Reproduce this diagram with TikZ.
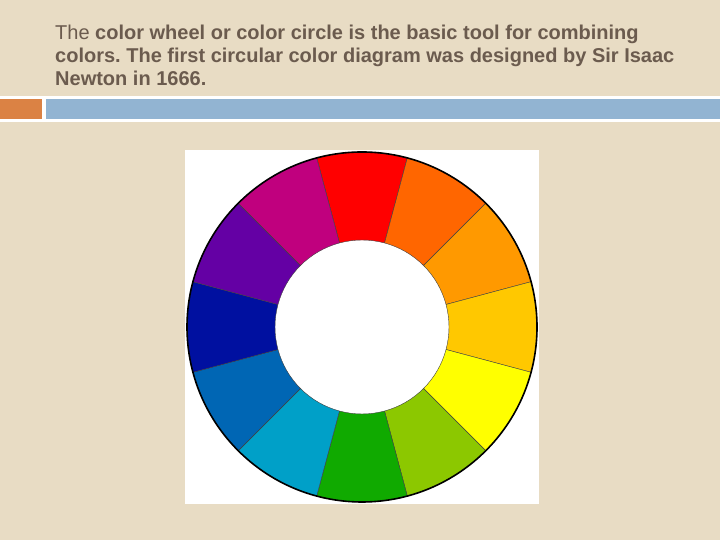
\documentclass[tikz,border=0pt]{standalone}
\usepackage{fontspec}
\setmainfont{Liberation Sans}
\usepackage{tikz}
\frenchspacing
\definecolor{slidebg}{HTML}{E8DCC4}
\definecolor{slidetext}{HTML}{6B5B4E}
\definecolor{barorange}{HTML}{DB8244}
\definecolor{barblue}{HTML}{92B4D2}
\definecolor{wRed}{HTML}{FF0000}
\definecolor{wRedOrange}{HTML}{FF6600}
\definecolor{wOrange}{HTML}{FF9900}
\definecolor{wAmber}{HTML}{FFC800}
\definecolor{wYellow}{HTML}{FFFF00}
\definecolor{wLime}{HTML}{8CC800}
\definecolor{wGreen}{HTML}{10AA00}
\definecolor{wCyan}{HTML}{00A0C8}
\definecolor{wBlue}{HTML}{0066B4}
\definecolor{wNavy}{HTML}{0010A0}
\definecolor{wViolet}{HTML}{6400A4}
\definecolor{wMagenta}{HTML}{C0007E}
\tikzset{
  segment/.style={draw=black!75, line width=0.4pt},
  caption/.style={anchor=base west, inner sep=0pt, text=slidetext, font=\fontsize{20}{23}\selectfont}
}

\begin{document}
\begin{tikzpicture}[x=1pt,y=1pt]
    \fill[slidebg] (0,0) rectangle (720,540);
    \useasboundingbox (0,0) rectangle (720,540);
    \node[caption] (line1) at (55,500) {The \textbf{color wheel or color circle is the basic tool for combining}};
    \node[caption] (line2) at (55,477) {\textbf{colors. The first circular color diagram was designed by Sir Isaac}};
    \node[caption] (line3) at (55,454) {\textbf{Newton in 1666.}};
    \fill[white] (0,418) rectangle (720,444);
    \fill[barorange] (0,421) rectangle (42,441);
    \fill[barblue] (46,421) rectangle (720,441);
    \fill[white] (185,36) rectangle (539,390);
    \begin{scope}[shift={(362,213)}]
      \draw[segment, fill=wRed] (75:87) -- (75:175)
        arc[start angle=75, end angle=105, radius=175] -- (105:87)
        arc[start angle=105, end angle=75, radius=87] -- cycle;
      \draw[segment, fill=wRedOrange] (45:87) -- (45:175)
        arc[start angle=45, end angle=75, radius=175] -- (75:87)
        arc[start angle=75, end angle=45, radius=87] -- cycle;
      \draw[segment, fill=wOrange] (15:87) -- (15:175)
        arc[start angle=15, end angle=45, radius=175] -- (45:87)
        arc[start angle=45, end angle=15, radius=87] -- cycle;
      \draw[segment, fill=wAmber] (-15:87) -- (-15:175)
        arc[start angle=-15, end angle=15, radius=175] -- (15:87)
        arc[start angle=15, end angle=-15, radius=87] -- cycle;
      \draw[segment, fill=wYellow] (-45:87) -- (-45:175)
        arc[start angle=-45, end angle=-15, radius=175] -- (-15:87)
        arc[start angle=-15, end angle=-45, radius=87] -- cycle;
      \draw[segment, fill=wLime] (-75:87) -- (-75:175)
        arc[start angle=-75, end angle=-45, radius=175] -- (-45:87)
        arc[start angle=-45, end angle=-75, radius=87] -- cycle;
      \draw[segment, fill=wGreen] (-105:87) -- (-105:175)
        arc[start angle=-105, end angle=-75, radius=175] -- (-75:87)
        arc[start angle=-75, end angle=-105, radius=87] -- cycle;
      \draw[segment, fill=wCyan] (-135:87) -- (-135:175)
        arc[start angle=-135, end angle=-105, radius=175] -- (-105:87)
        arc[start angle=-105, end angle=-135, radius=87] -- cycle;
      \draw[segment, fill=wBlue] (-165:87) -- (-165:175)
        arc[start angle=-165, end angle=-135, radius=175] -- (-135:87)
        arc[start angle=-135, end angle=-165, radius=87] -- cycle;
      \draw[segment, fill=wNavy] (165:87) -- (165:175)
        arc[start angle=165, end angle=195, radius=175] -- (195:87)
        arc[start angle=195, end angle=165, radius=87] -- cycle;
      \draw[segment, fill=wViolet] (135:87) -- (135:175)
        arc[start angle=135, end angle=165, radius=175] -- (165:87)
        arc[start angle=165, end angle=135, radius=87] -- cycle;
      \draw[segment, fill=wMagenta] (105:87) -- (105:175)
        arc[start angle=105, end angle=135, radius=175] -- (135:87)
        arc[start angle=135, end angle=105, radius=87] -- cycle;
      \draw[black, line width=1.6pt] (0,0) circle[radius=175];
    \end{scope}
  \end{tikzpicture}
\end{document}
